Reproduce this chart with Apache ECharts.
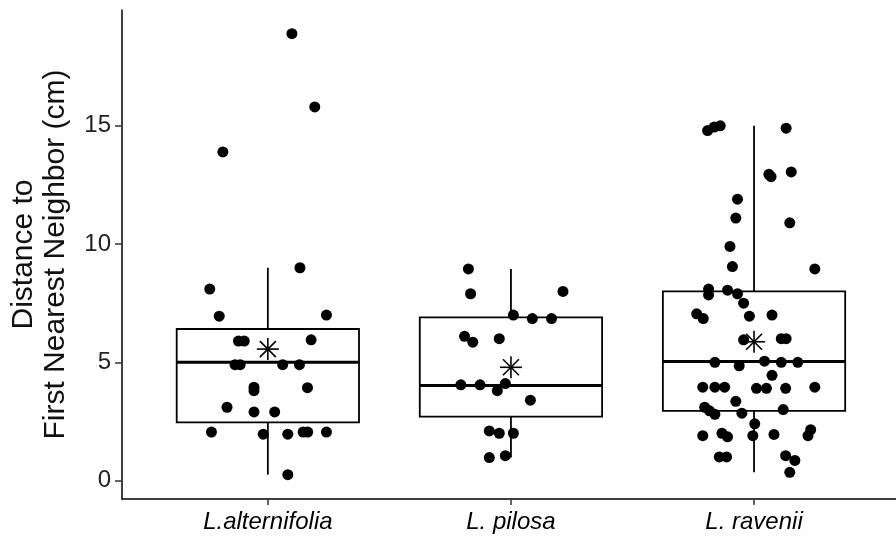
<!DOCTYPE html>
<html>
<head>
<meta charset="utf-8">
<script src="https://cdn.jsdelivr.net/npm/echarts@6/dist/echarts.min.js"></script>
<style>
html,body{margin:0;padding:0;background:#fff;}
#chart{width:896px;height:538px;}
</style>
</head>
<body>
<div id="chart"></div>
<script>
// ---- data ----
const categories = ['L.alternifolia', 'L. pilosa', 'L. ravenii'];
const yTickValues = [0, 5, 10, 15];

// box statistics per category
const boxMin    = [0.25, 0.97, 0.35];
const boxQ1     = [2.46, 2.70, 2.95];
const boxMedian = [5.00, 4.02, 5.03];
const boxQ3     = [6.41, 6.90, 8.00];
const boxMax    = [9.00, 8.95, 15.00];
const groupMeans = [5.56, 4.79, 5.87];

// individual observations (value) and their horizontal jitter (category units)
const alternifoliaValues = [18.9, 15.8, 13.9, 9.0, 8.1, 6.95, 7.0, 5.9, 5.9, 5.95, 4.9, 4.9, 4.9, 4.9, 3.95, 3.8, 3.93, 3.1, 2.9, 2.9, 2.05, 1.96, 1.96, 2.05, 2.05, 2.05, 0.25];
const alternifoliaJitter = [0.099, 0.193, -0.185, 0.132, -0.239, -0.200, 0.241, -0.121, -0.097, 0.178, -0.135, -0.114, 0.061, 0.130, -0.057, -0.057, 0.163, -0.168, -0.057, 0.028, -0.232, -0.019, 0.082, 0.145, 0.164, 0.241, 0.082];

const pilosaValues = [8.95, 7.9, 8.0, 7.0, 6.85, 6.85, 6.1, 5.85, 6.0, 4.05, 4.05, 3.8, 4.1, 3.4, 2.1, 2.0, 2.0, 0.97, 1.05];
const pilosaJitter = [-0.175, -0.166, 0.214, 0.010, 0.088, 0.167, -0.191, -0.157, -0.048, -0.206, -0.127, -0.056, -0.023, 0.080, -0.089, -0.048, 0.010, -0.089, -0.023];

const raveniiValues = [14.8, 14.95, 15.0, 14.9, 12.95, 12.85, 13.05, 11.9, 11.1, 10.9, 9.9, 9.05, 8.95, 8.1, 7.85, 8.05, 7.9, 7.5, 7.05, 6.85, 6.95, 7.0, 5.95, 6.0, 6.0, 5.0, 4.85, 5.05, 5.0, 5.0, 4.45, 3.95, 3.95, 3.95, 3.9, 3.9, 3.9, 3.95, 3.35, 3.1, 2.95, 2.8, 2.85, 3.0, 2.4, 1.9, 2.0, 1.85, 1.9, 1.95, 2.15, 1.9, 1.0, 1.0, 1.05, 0.85, 0.35];
const raveniiJitter = [-0.191, -0.164, -0.139, 0.132, 0.061, 0.070, 0.153, -0.068, -0.075, 0.147, -0.099, -0.089, 0.250, -0.187, -0.187, -0.109, -0.068, -0.043, -0.236, -0.209, -0.019, 0.074, -0.043, 0.112, 0.132, -0.161, -0.061, 0.043, 0.112, 0.180, 0.074, -0.211, -0.161, -0.121, 0.010, 0.051, 0.130, 0.250, -0.075, -0.203, -0.183, -0.161, -0.050, 0.120, 0.003, -0.211, -0.132, -0.109, -0.005, 0.082, 0.233, 0.222, -0.143, -0.113, 0.130, 0.168, 0.147];

// ---- build series data ----
const groupValues = [alternifoliaValues, pilosaValues, raveniiValues];
const groupJitter = [alternifoliaJitter, pilosaJitter, raveniiJitter];
const pointData = [];
groupValues.forEach((vals, g) => {
  vals.forEach((v, i) => pointData.push([g + 1 + groupJitter[g][i], v]));
});
const boxData = categories.map((c, i) => [i + 1, boxMin[i], boxQ1[i], boxMedian[i], boxQ3[i], boxMax[i]]);
const meanData = categories.map((c, i) => [i + 1, groupMeans[i]]);

const FONT = '"Liberation Sans", Arial, sans-serif';
const chart = echarts.init(document.getElementById('chart'), null, {renderer: 'canvas'});

chart.setOption({
  animation: false,
  backgroundColor: '#fff',
  grid: {left: 119, right: 0, top: 10, bottom: 39, containLabel: false},
  xAxis: {
    type: 'value',
    min: 0.4,
    max: 3.584,
    splitLine: {show: false},
    axisLine: {show: true, onZero: false, lineStyle: {color: '#000', width: 1.5}},
    axisTick: {show: true, customValues: [1, 2, 3], length: 6, lineStyle: {color: '#333', width: 1.5}},
    axisLabel: {
      customValues: [1, 2, 3],
      formatter: v => categories[Math.round(v) - 1] || '',
      fontFamily: FONT, fontSize: 24, fontStyle: 'italic', color: '#000', margin: 11
    }
  },
  yAxis: {
    type: 'value',
    min: -0.78,
    max: 19.9,
    splitLine: {show: false},
    axisLine: {show: true, onZero: false, lineStyle: {color: '#000', width: 1.5}},
    axisTick: {show: true, customValues: yTickValues, length: 7, lineStyle: {color: '#333', width: 1.5}},
    axisLabel: {
      customValues: yTickValues,
      fontFamily: FONT, fontSize: 24, color: '#222', margin: 11
    },
    name: 'Distance to\nFirst Nearest Neighbor (cm)',
    nameLocation: 'middle',
    nameRotate: 90,
    nameGap: 50,
    nameTextStyle: {fontFamily: FONT, fontSize: 30, lineHeight: 32, color: '#111'}
  },
  series: [
    {
      type: 'custom',
      data: boxData,
      z: 2,
      renderItem: function (params, api) {
        const x = api.value(0);
        const lo = api.coord([x, api.value(1)]);
        const q1 = api.coord([x, api.value(2)]);
        const md = api.coord([x, api.value(3)]);
        const q3 = api.coord([x, api.value(4)]);
        const hi = api.coord([x, api.value(5)]);
        const half = api.size([0.75, 0])[0] / 2;
        const cx = md[0];
        const st = {stroke: '#000', lineWidth: 1.8, fill: null};
        return {
          type: 'group',
          children: [
            {type: 'line', shape: {x1: cx, y1: q3[1], x2: cx, y2: hi[1]}, style: st},
            {type: 'line', shape: {x1: cx, y1: q1[1], x2: cx, y2: lo[1]}, style: st},
            {type: 'rect', shape: {x: cx - half, y: q3[1], width: half * 2, height: q1[1] - q3[1]},
             style: {stroke: '#000', lineWidth: 1.8, fill: '#fff'}},
            {type: 'line', shape: {x1: cx - half, y1: md[1], x2: cx + half, y2: md[1]},
             style: {stroke: '#000', lineWidth: 3, fill: null}}
          ]
        };
      }
    },
    {
      type: 'scatter',
      data: pointData,
      symbol: 'circle',
      symbolSize: 11,
      itemStyle: {color: '#000', opacity: 1},
      z: 3
    },
    {
      type: 'custom',
      data: meanData,
      z: 4,
      renderItem: function (params, api) {
        const p = api.coord([api.value(0), api.value(1)]);
        const r = 11, d = 8;
        const st = {stroke: '#000', lineWidth: 1.6, fill: null};
        return {
          type: 'group',
          children: [
            {type: 'line', shape: {x1: p[0] - r, y1: p[1], x2: p[0] + r, y2: p[1]}, style: st},
            {type: 'line', shape: {x1: p[0], y1: p[1] - r, x2: p[0], y2: p[1] + r}, style: st},
            {type: 'line', shape: {x1: p[0] - d, y1: p[1] - d, x2: p[0] + d, y2: p[1] + d}, style: st},
            {type: 'line', shape: {x1: p[0] - d, y1: p[1] + d, x2: p[0] + d, y2: p[1] - d}, style: st}
          ]
        };
      }
    }
  ]
});
</script>
</body>
</html>
